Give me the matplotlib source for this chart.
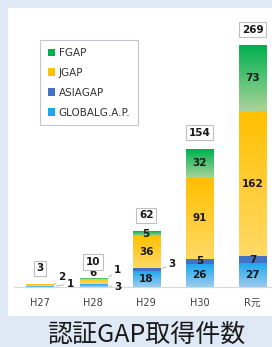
import matplotlib
matplotlib.use("Agg")
import matplotlib.pyplot as plt
import numpy as np
from matplotlib.colors import LinearSegmentedColormap
from matplotlib.patches import Rectangle

categories = ["H27", "H28", "H29", "H30", "R元"]
global_gap = [1, 3, 18, 26, 27]
asia_gap = [0, 0, 3, 5, 7]
j_gap = [2, 6, 36, 91, 162]
f_gap = [0, 1, 5, 32, 73]
totals = [3, 10, 62, 154, 269]
title = "認証GAP取得件数"

plt.rcParams['font.family'] = ['DejaVu Sans', 'Noto Sans CJK JP']
W, H = 272, 347
fig = plt.figure(figsize=(W / 100, H / 100), dpi=100)
fig.patch.set_facecolor('#dee9f5')
fig.patches.append(Rectangle((8 / W, (H - 316) / H), (W - 8) / W, (316 - 8) / H,
                             transform=fig.transFigure, facecolor='white', edgecolor='none', zorder=-5))

ax = fig.add_axes([14 / W, (H - 287) / H, (W - 14) / W, (287 - 8) / H], zorder=2)
ax.set_facecolor('none')
ax.patch.set_alpha(0)
x = np.arange(len(categories))
bw = 0.51

series = [
    ("GLOBALG.A.P.", global_gap, '#1aa7ee', '#9ccbee'),
    ("ASIAGAP", asia_gap, '#4472c4', '#4472c4'),
    ("JGAP", j_gap, '#ffc000', '#ffd966'),
    ("FGAP", f_gap, '#00b050', '#a9d499'),
]
bottom = np.zeros(len(categories))
handles = {}
rects = {}
for name, vals, ctop, cbot in series:
    bars = ax.bar(x, vals, bw, bottom=bottom, color=ctop, edgecolor='none', zorder=2)
    cmap = LinearSegmentedColormap.from_list(name, [cbot, ctop])
    grad = np.linspace(0, 1, 64).reshape(-1, 1)
    for r in bars:
        if r.get_height() <= 0:
            continue
        x0, y0 = r.get_x(), r.get_y()
        ax.imshow(grad, cmap=cmap, origin='lower', aspect='auto', zorder=3,
                  extent=(x0, x0 + r.get_width(), y0, y0 + r.get_height()))
    handles[name] = Rectangle((0, 0), 1, 1, facecolor=ctop, edgecolor='none')
    rects[name] = (list(vals), bottom.copy())
    bottom = bottom + np.array(vals)

ax.set_xlim(-0.49, 4.367)
ax.set_ylim(0, 311)

lab_kw = dict(ha='center', va='center', fontsize=7.5, fontweight='bold', color='#1a1a1a', zorder=5)
inside = {"GLOBALG.A.P.": [2, 3, 4], "ASIAGAP": [3, 4], "JGAP": [2, 3, 4], "FGAP": [2, 3, 4]}
for name, idxs in inside.items():
    vals, bot = rects[name]
    for i in idxs:
        ax.text(x[i], bot[i] + vals[i] / 2, str(vals[i]), **lab_kw)
vals, bot = rects["JGAP"]
ax.annotate(str(vals[1]), (x[1], bot[1] + vals[1]), xytext=(0, 4), textcoords='offset points', **lab_kw)

line_kw = dict(arrowstyle='-', color='#bfbfbf', lw=0.8, shrinkA=0, shrinkB=2)
def leader(name, i, dx, dy):
    vals, bot = rects[name]
    ax.annotate(str(vals[i]), (x[i] + bw / 2, bot[i] + vals[i] / 2), xytext=(dx, dy),
                textcoords='offset points', arrowprops=line_kw, **lab_kw)

leader("JGAP", 0, 6, 6)
leader("GLOBALG.A.P.", 0, 12, 2)
leader("FGAP", 1, 8, 6)
leader("GLOBALG.A.P.", 1, 8, -1)
leader("ASIAGAP", 2, 9, 4)

for i, t in enumerate(totals):
    ax.annotate(str(t), (x[i], t), xytext=(0, 11.5), textcoords='offset points',
                ha='center', va='center', fontsize=7.5, fontweight='bold', color='#1a1a1a', zorder=6,
                bbox=dict(boxstyle='square,pad=0.25', facecolor='white', edgecolor='#bfbfbf', lw=0.8))

for s in ['top', 'right', 'left']:
    ax.spines[s].set_visible(False)
ax.spines['bottom'].set_color('#d9d9d9')
ax.spines['bottom'].set_linewidth(0.8)
ax.set_yticks([])
ax.set_xticks(x)
ax.set_xticklabels(categories, fontsize=7, color='#404040')
ax.tick_params(axis='x', length=0, pad=8)

order = ["FGAP", "JGAP", "ASIAGAP", "GLOBALG.A.P."]
leg = fig.legend([handles[n] for n in order], order, loc='upper left',
                 bbox_to_anchor=(40 / W, (H - 40) / H), fontsize=7.5, frameon=True,
                 fancybox=False, edgecolor='#b4b9c3', handlelength=0.7, handleheight=0.7,
                 handletextpad=0.35, labelspacing=0.95, borderpad=0.75, borderaxespad=0)
leg.get_frame().set_linewidth(0.8)
for t in leg.get_texts():
    t.set_color('#333333')

fig.text(146 / W, (H - 335) / H, title, ha='center', va='center', fontsize=18,
         family=['Noto Sans CJK JP', 'DejaVu Sans'], color='#1a1a1a')

fig.savefig('out.png', dpi=100, facecolor=fig.get_facecolor())
